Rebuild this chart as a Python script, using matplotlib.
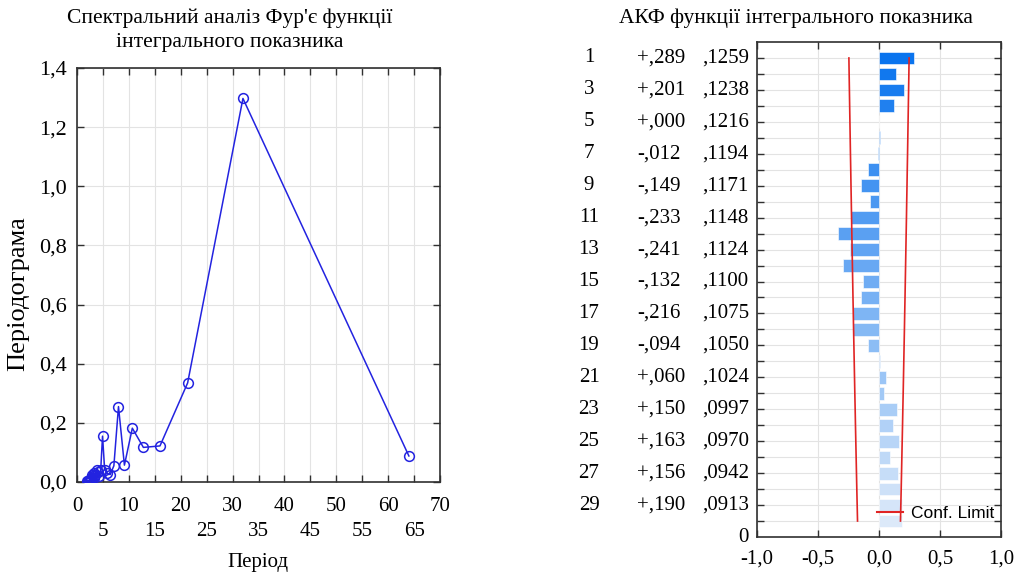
import matplotlib
matplotlib.use('Agg')
import matplotlib.pyplot as plt
import matplotlib.transforms as mtransforms
from matplotlib.lines import Line2D
from matplotlib.colors import to_rgb
import numpy as np

# ---------------- data ----------------
periods = [64.0, 32.0, 21.333, 16.0, 12.8, 10.667, 9.143, 8.0, 7.111, 6.4,
           5.818, 5.333, 4.923, 4.571, 4.267, 4.0, 3.765, 3.556, 3.368, 3.2,
           3.048, 2.909, 2.783, 2.667, 2.56, 2.462, 2.370, 2.286, 2.207, 2.133,
           2.065, 2.0]
periodogram = [0.088, 1.297, 0.335, 0.122, 0.117, 0.182, 0.057, 0.255, 0.055, 0.025,
               0.030, 0.042, 0.155, 0.040, 0.020, 0.035, 0.040, 0.025, 0.030, 0.015,
               0.020, 0.025, 0.010, 0.015, 0.005, 0.008, 0.003, 0.004, 0.002, 0.003,
               0.001, 0.002]
left_xticks_major = [0, 10, 20, 30, 40, 50, 60, 70]
left_xticks_minor = [5, 15, 25, 35, 45, 55, 65]
left_yticks = [0.0, 0.2, 0.4, 0.6, 0.8, 1.0, 1.2, 1.4]
left_ylabels = ["0,0", "0,2", "0,4", "0,6", "0,8", "1,0", "1,2", "1,4"]

lags = list(range(1, 31))
acf = [0.289, 0.137, 0.201, 0.126, 0.000, 0.008, -0.012, -0.091, -0.149, -0.074,
       -0.233, -0.337, -0.241, -0.291, -0.132, -0.148, -0.216, -0.217, -0.094, 0.006,
       0.060, 0.038, 0.150, 0.115, 0.163, 0.093, 0.156, 0.173, 0.190, 0.185]
se = [0.1259, 0.1249, 0.1238, 0.1227, 0.1216, 0.1205, 0.1194, 0.1182, 0.1171, 0.1159,
      0.1148, 0.1136, 0.1124, 0.1112, 0.1100, 0.1088, 0.1075, 0.1063, 0.1050, 0.1037,
      0.1024, 0.1011, 0.0997, 0.0984, 0.0970, 0.0956, 0.0942, 0.0928, 0.0913, 0.0898]
right_xticks = [-1.0, -0.5, 0.0, 0.5, 1.0]
right_xlabels = ["-1,0", "-0,5", "0,0", "0,5", "1,0"]

title_left = "Спектральний аналіз Фур'є функції\nінтегрального показника"
title_right = "АКФ функції інтегрального показника"
xlabel_left = "Період"
ylabel_left = "Періодограма"
legend_label = "Conf. Limit"

# ---------------- style ----------------
SERIF = ['Liberation Serif', 'DejaVu Serif']
SANS = ['Liberation Sans', 'DejaVu Sans']
plt.rcParams['font.family'] = SERIF
FS = 15
W, H = 1019, 575
fig = plt.figure(figsize=(W / 100, H / 100), dpi=100)

def fx(px):
    return px / W

def fy(py):
    return 1 - py / H

grid_c = '#e3e3e3'
spine_c = '#303030'
line_c = '#2323e0'

# ---------------- left plot ----------------
axL = fig.add_axes([fx(77), fy(482), fx(440) - fx(77), fy(68) - fy(482)])
axL.plot(periods, periodogram, color=line_c, lw=1.1, marker='o', ms=7,
         mfc='none', mec=line_c, mew=1.1, zorder=3)
axL.set_xlim(0, 70)
axL.set_ylim(0, 1.4)
axL.set_xticks(left_xticks_major)
axL.set_xticklabels([str(v) for v in left_xticks_major])
axL.set_xticks(left_xticks_minor, minor=True)
axL.set_xticklabels([str(v) for v in left_xticks_minor], minor=True)
axL.set_yticks(left_yticks)
axL.set_yticklabels(left_ylabels)
axL.tick_params(axis='both', which='both', direction='in', top=True, right=True,
                length=5, width=1, color=spine_c, labelsize=FS)
axL.tick_params(axis='x', which='major', pad=10.5)
axL.tick_params(axis='x', which='minor', pad=28.5)
axL.tick_params(axis='y', pad=7.5, labelsize=16)
axL.grid(True, which='both', color=grid_c, lw=0.8)
axL.set_axisbelow(True)
for s in axL.spines.values():
    s.set_color(spine_c)
    s.set_linewidth(1.2)
fig.text(fx(230), fy(9), title_left, ha='center', va='top', fontsize=15.5,
         linespacing=1.3)
fig.text(fx(258), fy(563), xlabel_left, ha='center', va='center', fontsize=FS)
fig.text(fx(18), fy(294), ylabel_left, ha='center', va='center', fontsize=19,
         rotation=90)

# ---------------- right plot ----------------
axR = fig.add_axes([fx(757), fy(537), fx(1001) - fx(757), fy(42) - fy(537)])
c_top = np.array(to_rgb('#0a74ee'))
c_bot = np.array(to_rgb('#dce9f9'))
n = len(lags)
bar_colors = [tuple(c_top + (c_bot - c_top) * (i / (n - 1))) for i in range(n)]
axR.barh(lags, acf, height=0.8, color=bar_colors, edgecolor='white', lw=0.4,
         zorder=2)
conf = [1.96 * s for s in se]
axR.plot(conf, lags, color='#e02424', lw=1.2, zorder=3)
axR.plot([-c for c in conf], lags, color='#e02424', lw=1.2, zorder=3)
axR.set_xlim(-1, 1)
axR.set_ylim(31, 0)
axR.set_xticks(right_xticks)
axR.set_xticklabels(right_xlabels)
axR.set_yticks(lags)
axR.set_yticklabels([])
axR.tick_params(axis='both', which='both', direction='in', top=True, right=True,
                length=5, width=1, color=spine_c, labelsize=FS)
axR.tick_params(axis='x', pad=9)
axR.grid(True, color=grid_c, lw=0.8)
axR.set_axisbelow(True)
for s in axR.spines.values():
    s.set_color(spine_c)
    s.set_linewidth(1.2)

tr = mtransforms.blended_transform_factory(fig.transFigure, axR.transData)
for lag, a, s in zip(lags, acf, se):
    if lag % 2 == 1:
        sign = '+' if a >= 0 else '-'
        atxt = sign + ',' + f"{abs(a):.3f}"[2:]
        stxt = ',' + f"{s:.4f}"[2:]
        fig.text(fx(589), lag, str(lag), transform=tr, ha='center', va='center',
                 fontsize=FS)
        fig.text(fx(637), lag, atxt, transform=tr, ha='left', va='center',
                 fontsize=FS)
        fig.text(fx(702), lag, stxt, transform=tr, ha='left', va='center',
                 fontsize=FS)
fig.text(fx(749), fy(537), "0", ha='right', va='center', fontsize=FS)

leg_handle = Line2D([], [], color='#e02424', lw=1.5)
axR.legend([leg_handle], [legend_label], loc='lower right',
           bbox_to_anchor=(1.0, 0.018), frameon=False,
           prop={'family': SANS, 'size': 12.5}, handlelength=1.5,
           handletextpad=0.45, borderaxespad=0.0, borderpad=0.4)

fig.text(fx(796), fy(9), title_right, ha='center', va='top', fontsize=15.5)

fig.savefig('out.png', dpi=100)
